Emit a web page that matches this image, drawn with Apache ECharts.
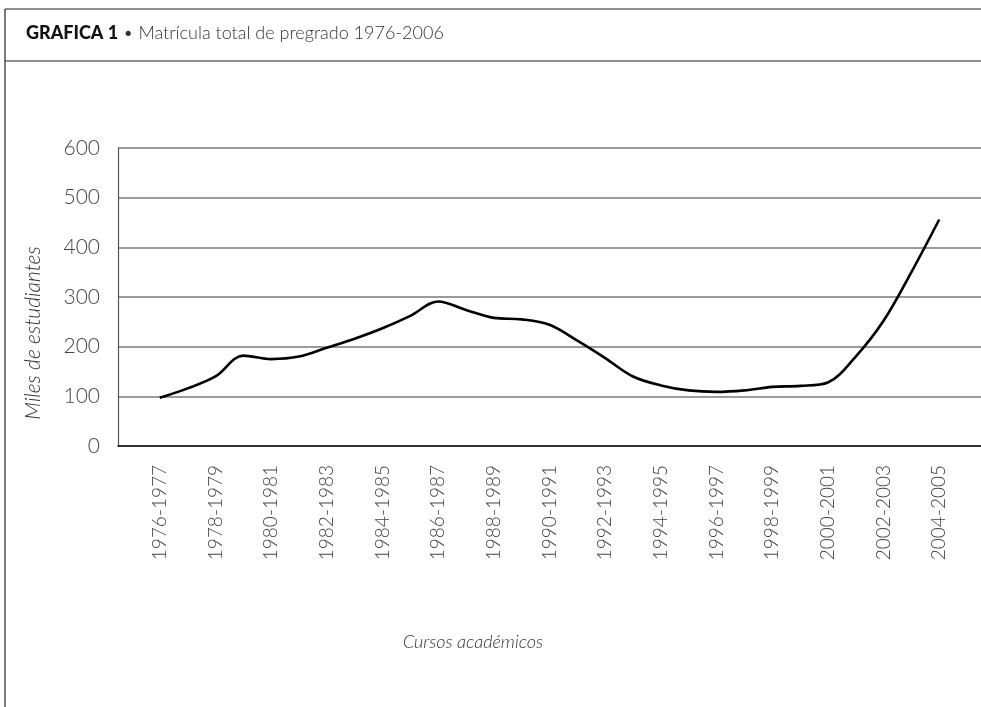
<!DOCTYPE html>
<html>
<head>
<meta charset="utf-8">
<script src="https://cdn.jsdelivr.net/npm/echarts@6/dist/echarts.min.js"></script>
<style>
html,body{margin:0;padding:0;background:#fff;}
#c{width:981px;height:707px;}
</style>
</head>
<body>
<div id="c"></div>
<script>
// Academic years (first and last categories carry no data)
const categories = ['1975-1976','1976-1977','1977-1978','1978-1979','1979-1980','1980-1981','1981-1982','1982-1983','1983-1984','1984-1985','1985-1986','1986-1987','1987-1988','1988-1989','1989-1990','1990-1991','1991-1992','1992-1993','1993-1994','1994-1995','1995-1996','1996-1997','1997-1998','1998-1999','1999-2000','2000-2001','2001-2002','2002-2003','2003-2004','2004-2005','2005-2006'];
// Miles de estudiantes
const matricula = [null,97,116,140,182,175,180,198,216,237,262,291,274,258,255,244,212,177,140,122,112,109,112,119,121,128,180,252,350,456,null];
const yTicks = [0,100,200,300,400,500,600];

const chart = echarts.init(document.getElementById('c'));
const font = 'Lato, "Open Sans", sans-serif';
chart.setOption({
  animation: false,
  backgroundColor: '#fff',
  grid: {left: 118, right: 0, top: 148, bottom: 261, containLabel: false},
  xAxis: {
    type: 'category',
    data: categories,
    boundaryGap: true,
    axisLine: {show: true, lineStyle: {color: '#111', width: 1.5}},
    axisTick: {show: false},
    axisLabel: {
      rotate: 90,
      margin: 19,
      interval: function(i){ return i % 2 === 1 && i < categories.length - 1; },
      fontFamily: font, fontWeight: 300, fontSize: 19, color: '#444'
    },
    splitLine: {show: false}
  },
  yAxis: {
    type: 'value',
    min: yTicks[0], max: yTicks[yTicks.length-1], interval: 100,
    axisLine: {show: true, lineStyle: {color: '#555', width: 1.2}},
    axisTick: {show: false},
    axisLabel: {margin: 18, fontFamily: font, fontWeight: 300, fontSize: 21, color: '#444'},
    splitLine: {show: true, lineStyle: {color: '#7a7a7a', width: 1.5}}
  },
  series: [{
    type: 'line',
    data: matricula,
    smooth: 0.35,
    showSymbol: false,
    symbol: 'none',
    connectNulls: false,
    lineStyle: {color: '#000', width: 2.6}
  }],
  graphic: [
    {type: 'line', shape: {x1: 5, y1: 9, x2: 981, y2: 9}, style: {stroke: '#222', lineWidth: 1.2}},
    {type: 'line', shape: {x1: 5, y1: 61, x2: 981, y2: 61}, style: {stroke: '#222', lineWidth: 1.2}},
    {type: 'line', shape: {x1: 5, y1: 9, x2: 5, y2: 707}, style: {stroke: '#222', lineWidth: 1.2}},
    {type: 'text', left: 26, top: 24, style: {
      text: '{b|GRAFICA 1}{n| • Matrícula total de pregrado 1976-2006}',
      rich: {
        b: {fontFamily: font, fontWeight: 900, fontSize: 18, fill: '#111'},
        n: {fontFamily: font, fontWeight: 300, fontSize: 18, fill: '#333'}
      }
    }},
    {type: 'text', x: 33, y: 333, rotation: Math.PI/2, style: {
      text: 'Miles de estudiantes', fontFamily: font, fontStyle: 'italic', fontWeight: 300, fontSize: 21,
      fill: '#333', align: 'center', verticalAlign: 'middle'
    }},
    {type: 'text', x: 473, y: 642, style: {
      text: 'Cursos académicos', fontFamily: font, fontStyle: 'italic', fontWeight: 300, fontSize: 18,
      fill: '#333', align: 'center', verticalAlign: 'middle'
    }}
  ]
});
</script>
</body>
</html>
